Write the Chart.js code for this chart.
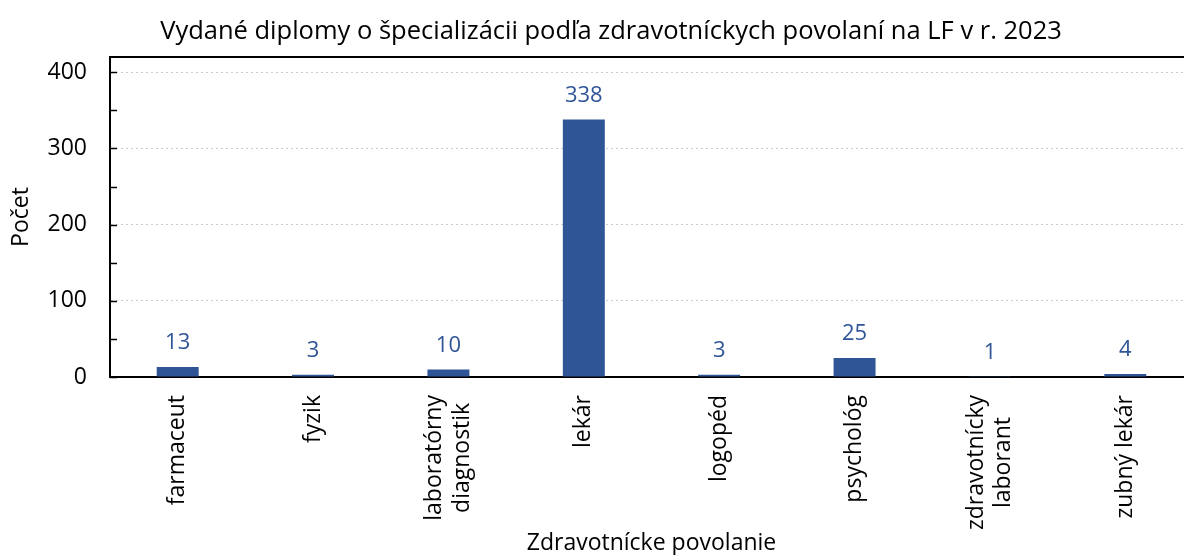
<!DOCTYPE html>
<html>
<head>
<meta charset="utf-8">
<script src="https://cdn.jsdelivr.net/npm/chart.js@4"></script>
<style>
  html, body { margin: 0; padding: 0; background: #fff; overflow: hidden; }
  #wrap { width: 1194px; height: 555px; }
</style>
</head>
<body>
<div id="wrap"><canvas id="chart" width="1194" height="555"></canvas></div>
<script>
const chartTitle = 'Vydané diplomy o špecializácii podľa zdravotníckych povolaní na LF v r. 2023'
const categories = [
  'farmaceut',
  'fyzik',
  ['laboratórny', 'diagnostik'],
  'lekár',
  'logopéd',
  'psychológ',
  ['zdravotnícky', 'laborant'],
  'zubný lekár',
]
const counts = [13, 3, 10, 338, 3, 25, 1, 4]
const majorTicks = [0, 100, 200, 300, 400]
const minorTicks = [50, 150, 250, 350]

const FONT = '"Open Sans", sans-serif'
const BLUE = '#2f5597'

// title, ticks pointing inward, the top frame line, value labels above bars
// and the rotated category labels (multi-line ones centred on each other)
const decorations = {
  id: 'decorations',
  afterDatasetsDraw(chart) {
    const { ctx, chartArea } = chart
    const x = chart.scales.x
    const y = chart.scales.y
    ctx.save()
    ctx.strokeStyle = '#000'
    ctx.lineWidth = 1.5
    majorTicks.concat(minorTicks).forEach((v) => {
      const py = Math.round(y.getPixelForValue(v)) + 0.5
      ctx.beginPath()
      ctx.moveTo(chartArea.left, py)
      ctx.lineTo(chartArea.left + 7, py)
      ctx.stroke()
    })
    ctx.lineWidth = 2
    ctx.beginPath()
    ctx.moveTo(chartArea.left, chartArea.top)
    ctx.lineTo(chartArea.right, chartArea.top)
    ctx.stroke()

    const meta = chart.getDatasetMeta(0)
    ctx.fillStyle = BLUE
    ctx.font = '22px ' + FONT
    ctx.textAlign = 'center'
    ctx.textBaseline = 'bottom'
    meta.data.forEach((bar, i) => {
      ctx.fillText(String(counts[i]), bar.x, bar.y - 13)
    })

    ctx.fillStyle = '#000'
    ctx.font = '23px ' + FONT
    ctx.textBaseline = 'middle'
    const lineH = 27.6
    categories.forEach((label, i) => {
      const lines = Array.isArray(label) ? label : [label]
      const w = Math.max(...lines.map((l) => ctx.measureText(l).width))
      const cx = x.getPixelForTick(i)
      const cy = chartArea.bottom + 18 + w / 2
      ctx.save()
      ctx.translate(cx, cy)
      ctx.rotate(-Math.PI / 2)
      lines.forEach((l, j) => {
        ctx.fillText(l, 0, (j - (lines.length - 1) / 2) * lineH)
      })
      ctx.restore()
    })

    ctx.font = '25.5px ' + FONT
    ctx.fillText(chartTitle, 611, 32)
    ctx.restore()
  },
}

new Chart(document.getElementById('chart'), {
  type: 'bar',
  data: {
    labels: categories,
    datasets: [
      {
        data: counts,
        backgroundColor: BLUE,
        categoryPercentage: 1,
        barPercentage: 0.31,
      },
    ],
  },
  options: {
    responsive: false,
    animation: false,
    layout: { padding: { left: 8, right: 1, top: 57, bottom: 0 } },
    plugins: {
      legend: { display: false },
      tooltip: { enabled: false },
    },
    scales: {
      x: {
        afterFit(scale) {
          scale.height = 178
        },
        grid: { display: false, drawTicks: false },
        border: { color: '#000', width: 2 },
        ticks: { display: false, autoSkip: false },
        title: {
          display: true,
          text: 'Zdravotnícke povolanie',
          color: '#000',
          font: { family: FONT, size: 23, lineHeight: 1.0 },
          padding: { top: 0, bottom: 0 },
        },
      },
      y: {
        min: 0,
        max: 420,
        afterBuildTicks(scale) {
          scale.ticks = majorTicks.map((v) => ({ value: v }))
        },
        afterFit(scale) {
          scale.width = 102
        },
        grid: {
          drawTicks: false,
          color: (c) => (c.tick && c.tick.value === 0 ? 'rgba(0,0,0,0)' : '#cccccc'),
          lineWidth: 1,
        },
        border: { color: '#000', width: 2, dash: [2, 3] },
        ticks: {
          color: '#000',
          font: { family: FONT, size: 23 },
          padding: 23,
        },
        title: {
          display: true,
          text: 'Počet',
          color: '#000',
          font: { family: FONT, size: 23, lineHeight: 1.2 },
          padding: { top: 0, bottom: 0 },
        },
      },
    },
  },
  plugins: [decorations],
})
</script>
</body>
</html>
